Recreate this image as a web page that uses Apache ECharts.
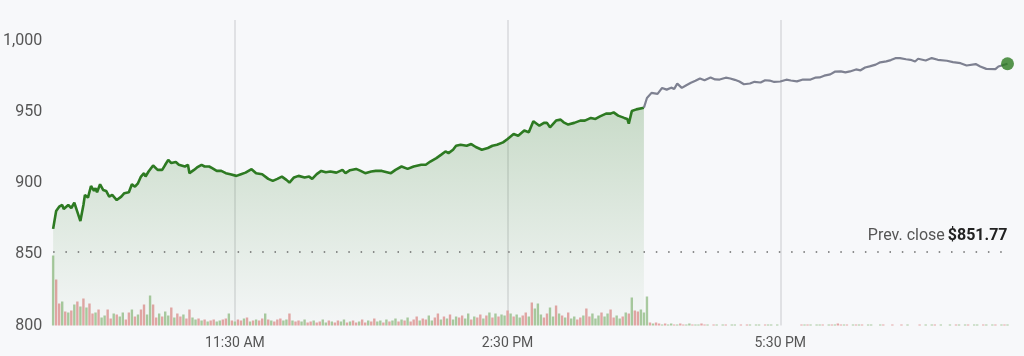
<!DOCTYPE html>
<html><head><meta charset="utf-8">
<script src="https://cdn.jsdelivr.net/npm/echarts@6/dist/echarts.min.js"></script>
<style>html,body{margin:0;padding:0;background:#f7f8fa}#c{width:1024px;height:356px}</style>
</head><body><div id="c"></div>
<script>
// minutes after 9:30 AM
const regMinutes = [0,2,4,6,7,10,12,14,16,18,20,21,23,25,27,28,29,31,33,35,37,39,42,45,47,50,52,54,56,58,60,61,63,66,69,72,74,76,78,81,83,84,87,89,90,93,95,98,100,103,105,108,111,114,117,121,124,127,131,134,138,142,145,148,151,154,156,159,162,166,169,171,174,177,180,183,187,191,193,196,200,203,206,210,213,217,223,226,230,234,238,243,246,249,253,256,259,261,264,266,269,273,276,279,283,287,290,293,297,300,304,307,311,314,317,321,324,326,328,332,335,337,340,344,348,351,355,358,361,365,368,370,373,377,379,380,382,385,390];
const regPrices = [868,880.6,883.6,884.8,882,884.8,882.7,886.4,880,873.5,884.8,891.9,890,898.2,894.7,896.6,893.8,899.4,895.4,894.7,890.7,891.9,888.3,890.7,893.1,893.8,899.4,897.7,900.1,904.8,907.2,904.8,908.4,912.6,909.5,909.5,913.1,916.6,914.3,915,913.1,914.3,911.9,913.1,907.2,909.5,911.2,913.1,911.9,911.9,910.7,908.8,908.8,907.2,906.5,905.3,906.5,907.6,910,907.2,906.5,903.2,901.8,903.2,904.8,902.5,900.6,904.2,905.3,904.2,904.8,903.2,906.5,908.8,907.8,908.4,907.6,909.5,907.2,909.3,910.2,908.8,907.2,908.4,908.8,908.8,907.2,909.5,911.9,910.2,911.9,913.1,913.1,915.4,917.8,920.1,922.5,921.3,923.7,926.5,927.2,926.5,927.7,925.6,923.7,924.9,926.5,927.2,928.9,931.3,934.8,933.6,937.2,936,943.7,940.6,942.6,942.6,939.5,944.2,944.9,943,941.4,942.6,944.2,944.2,946.1,945.4,947.2,949.1,949.1,950,947.7,946.1,945.4,942,950.9,952.1,953.3];
const ahMinutes = [390,392,395,399,402,405,408,410,412,415,418,421,424,427,430,434,437,440,444,447,450,453,456,460,463,467,470,473,476,480,484,487,491,495,500,503,506,509,513,516,520,523,526,530,533,536,539,543,546,550,553,556,559,563,566,569,571,576,580,584,590,594,599,603,609,612,616,622,624,630];
const ahPrices = [953.3,960.1,963.7,963,967.2,966,967.4,966.5,970.2,967.2,969.1,970.8,972.2,973.8,972.6,974.6,973.2,973.1,974.4,973.8,972.9,971.7,969.8,970.3,971.5,971,972.6,972.4,971.4,971.7,973,972.4,971.8,973.1,973.1,974.4,974.6,975.8,976.7,978.6,978.8,978.1,978.8,980.2,979.6,981.6,982.4,983.6,985.2,985.9,986.8,988.1,988.2,987.4,987,985.8,987.7,986.5,988.2,987,986.3,985.4,984.6,983,984,982.3,980.6,980.4,982.3,984.2];
// volume (thousands of shares) in 2-minute bins starting at 9:30
const volStep = 2;
const volumeK = [70,46,22,24,14,13,15,21,24,19,27,18,22,12,13,16,8,10,16,7,12,11,9,13,6,13,16,9,11,16,21,11,30,21,8,12,9,14,10,18,8,12,9,11,7,16,8,6,7,5,6,4,5,6,4,5,6,7,12,5,4,6,5,7,8,4,5,6,5,7,12,6,5,4,6,7,5,6,12,5,4,5,4,6,3,4,5,3,4,6,3,5,4,3,5,4,6,3,4,5,3,4,6,3,5,4,7,4,5,3,6,4,5,7,4,6,5,8,4,6,9,5,7,6,10,5,8,12,6,9,7,11,6,9,8,10,7,12,6,9,8,11,7,10,13,8,12,9,11,10,15,12,9,11,8,10,13,9,23,17,22,11,8,12,18,9,20,12,10,8,13,7,9,6,8,10,17,9,12,7,10,13,9,12,16,8,10,7,9,13,12,28,15,14,16,
13,29,3,2,3,2,1,2,1,2,1,1,2,1,1,2,1,1,1,2,1,1,0,1,1,0,1,1,0,1,1,0,1,0,1,1,0,1,1,0,1,1,1,0,1,0,0,0,0,0,0,0,1,1,1,1,0,1,1,1,0,1,1,1,2,1,1,1,0,1,1,1,1,0,1,1,0,0,1,1,0,0,1,0,0,1,0,1,0,0,0,1,0,1,0,1,1,0,1,0,0,1,0,1,1,0,1,1,0,1,1,0,1,1,0,1,1,0,1,1,1];
const volDir = "uddudududu" + "dudduduudd" + "uduuddudud" + "duudduduud" + "uddudduudu" + "dudduuddud" + "uddudududd" + "ududdduudu" + "dduudduddu" + "ududduudud" + "duddudduud" + "uduudududd" + "dudduuddud" + "uduudduudu" + "ddudududuu" + "duduuddudu" + "uudduududu" + "duuddudduu" + "uduudduudu" + "dudduuudud" + "duduududdu" + "uduudduddu" + "dudduuddud" + "uduudduudu" + "ddudduudud" + "uduuddudud" + "duddududuu" + "uduuddudud" + "duudduduud" + "uddudduudu" + "dudduuddud" + "uddudududd";
const xTickMinutes = [120, 300, 480];
const xTickLabels = ["11:30 AM", "2:30 PM", "5:30 PM"];
const yTicks = [800, 850, 900, 950, 1000];
const prevClose = 851.77;

const GREEN = '#2d7a22', GRAY = '#7e8191';
const regData = regMinutes.map((m, i) => [m, regPrices[i]]);
const ahData = ahMinutes.map((m, i) => [m, ahPrices[i]]);
const volData = volumeK.map((v, i) => ({
  value: [i * volStep, v],
  itemStyle: { color: volDir[i] === 'u' ? '#a9caa0' : '#e4a6a6' }
}));
const last = ahData[ahData.length - 1];

const chart = echarts.init(document.getElementById('c'), null, { renderer: 'canvas' });
chart.setOption({
  backgroundColor: '#f7f8fa',
  animation: false,
  textStyle: { fontFamily: 'Roboto, sans-serif' },
  grid: { left: 52, right: 16.5, top: 20, bottom: 30.5 },
  xAxis: {
    type: 'value', min: 0, max: 630,
    axisLine: { show: false },
    axisTick: { show: false, customValues: xTickMinutes },
    axisLabel: {
      customValues: xTickMinutes, color: '#555', fontSize: 14, margin: 11,
      formatter: v => xTickLabels[xTickMinutes.indexOf(v)] || ''
    },
    splitLine: { show: true, lineStyle: { color: '#d9dadd', width: 1.5 } }
  },
  yAxis: [{
    type: 'value', min: 800, max: 1015,
    axisLine: { show: false }, axisTick: { show: false, customValues: yTicks },
    axisLabel: { customValues: yTicks, color: '#555', fontSize: 16, margin: 11 },
    splitLine: { show: false }
  }, {
    type: 'value', min: 0, max: 305.5, show: false, splitLine: { show: false }
  }],
  series: [
    {
      type: 'bar', yAxisIndex: 1, data: volData, barWidth: 2.4, z: 2,
      silent: true
    },
    {
      type: 'line', data: regData, symbol: 'none', z: 4,
      lineStyle: { color: GREEN, width: 2.6 },
      areaStyle: {
        color: new echarts.graphic.LinearGradient(0, 0, 0, 1, [
          { offset: 0, color: 'rgba(45,122,34,0.33)' },
          { offset: 1, color: 'rgba(45,122,34,0.02)' }
        ])
      },
      markLine: {
        silent: true, symbol: 'none',
        lineStyle: { color: '#6a6a6a', width: 1.5, type: [1.5, 10.8] },
        label: {
          position: 'insideEndTop', distance: [0, 8],
          formatter: '{a|Prev. close} {b|$' + prevClose.toFixed(2) + '}',
          rich: {
            a: { fontSize: 16, color: '#555', fontFamily: 'Roboto, sans-serif' },
            b: { fontSize: 16, color: '#222', fontWeight: 'bold', fontFamily: 'Roboto, sans-serif' }
          }
        },
        data: [{ yAxis: prevClose }]
      }
    },
    {
      type: 'line', data: ahData, symbol: 'none', z: 4,
      lineStyle: { color: GRAY, width: 2.2 }
    },
    {
      type: 'scatter', data: [last], symbolSize: 13, z: 5,
      itemStyle: { color: GREEN }
    }
  ]
});
</script></body></html>
